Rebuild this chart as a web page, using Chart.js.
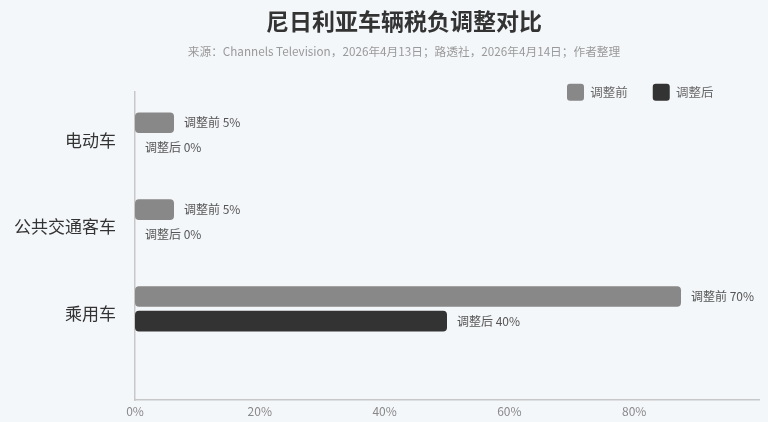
<!DOCTYPE html>
<html>
<head>
<meta charset="utf-8">
<script src="https://cdn.jsdelivr.net/npm/chart.js@4/dist/chart.umd.min.js"></script>
<style>
  html, body { margin: 0; padding: 0; background: #f4f7fa; }
  #wrap { width: 768px; height: 422px; }
</style>
</head>
<body>
<div id="wrap"><canvas id="c" width="768" height="422"></canvas></div>
<script>
const titleText = '尼日利亚车辆税负调整对比';
const subtitleText = '来源：Channels Television，2026年4月13日；路透社，2026年4月14日；作者整理';
const categories = ['电动车', '公共交通客车', '乘用车'];
const seriesNames = ['调整前', '调整后'];
const beforeValues = [5, 5, 70];
const afterValues = [0, 0, 40];
const xTickValues = [0, 16, 32, 48, 64];
const xTickLabels = ['0%', '20%', '40%', '60%', '80%'];
const seriesColors = ['#888888', '#333333'];

const FONT = "'Noto Sans CJK SC', 'Noto Sans', sans-serif";
Chart.defaults.font.family = FONT;

const layoutTweak = {
  id: 'layoutTweak',
  beforeLayout(chart) {
    const lg = chart.legend;
    if (lg && !lg._tweaked) {
      const fit = lg.fit;
      lg.fit = function () { fit.call(this); this.height -= 19; };
      lg._tweaked = true;
    }
  },
  afterLayout(chart) {
    const lg = chart.legend;
    if (lg) {
      lg.bottom += 19;
      lg.height += 19;
      lg.right = chart.chartArea.right - 20.5;
      lg.width = lg.right - lg.left;
    }
    chart.boxes.forEach(b => {
      if (b.options && typeof b.options.text === 'string' &&
          (b.options.text === titleText || b.options.text === subtitleText)) {
        b.left = 40; b.width = b.right - b.left;
      }
    });
  }
};

const barValueLabels = {
  id: 'barValueLabels',
  afterDatasetsDraw(chart) {
    const ctx = chart.ctx;
    ctx.save();
    ctx.font = '12px ' + FONT;
    ctx.fillStyle = '#555555';
    ctx.textAlign = 'left';
    ctx.textBaseline = 'middle';
    chart.data.datasets.forEach((ds, di) => {
      chart.getDatasetMeta(di).data.forEach((bar, i) => {
        const v = ds.data[i].x;
        ctx.fillText(ds.label + ' ' + v + '%', bar.x + 10, bar.y);
      });
    });
    ctx.restore();
  }
};

const toPoints = vals => vals.map((v, i) => ({ x: v, y: i }));

new Chart(document.getElementById('c'), {
  type: 'bar',
  data: {
    datasets: [
      { label: seriesNames[0], data: toPoints(beforeValues), backgroundColor: seriesColors[0], borderRadius: 4, borderSkipped: false, xAxisID: 'x', yAxisID: 'y' },
      { label: seriesNames[1], data: toPoints(afterValues), backgroundColor: seriesColors[1], borderRadius: 4, borderSkipped: false, xAxisID: 'x', yAxisID: 'y' }
    ]
  },
  options: {
    indexAxis: 'y',
    responsive: false,
    animation: false,
    devicePixelRatio: 1,
    categoryPercentage: 0.566,
    barPercentage: 0.84,
    layout: { padding: { left: 0, right: 0, top: 0, bottom: 0 } },
    plugins: {
      title: {
        display: true, text: titleText, color: '#333333',
        font: { size: 23, weight: 'bold' }, padding: { top: 7, bottom: 1 }
      },
      subtitle: {
        display: true, text: subtitleText, color: '#999999',
        font: { size: 11.7 }, padding: { top: 9, bottom: 0 }
      },
      legend: {
        display: true, position: 'top', align: 'end',
        labels: {
          boxWidth: 17, boxHeight: 17, padding: 25, color: '#666666',
          font: { size: 12.5 }, useBorderRadius: true, borderRadius: 3
        }
      },
      tooltip: { enabled: false }
    },
    scales: {
      x: {
        type: 'linear', min: 0, max: 80,
        afterBuildTicks: s => { s.ticks = xTickValues.map(v => ({ value: v })); },
        afterFit: s => { s.height = 22; s.paddingLeft = 0; s.paddingRight = 0; },
        ticks: {
          callback: (v, i) => xTickLabels[i],
          color: '#888888', font: { size: 12 }, padding: 4.5, maxRotation: 0, autoSkip: false
        },
        grid: { display: false, drawTicks: false },
        border: { display: true, color: '#c8c8c8', width: 1.5 }
      },
      y: {
        type: 'linear', reverse: true, min: -0.5, max: 3.05, offset: false,
        afterBuildTicks: s => { s.ticks = categories.map((c, i) => ({ value: i })); },
        afterFit: s => { s.width = 135; s.paddingTop = 0; s.paddingBottom = 0; },
        ticks: {
          callback: v => categories[v],
          color: '#333333', font: { size: 17 }, padding: 19, labelOffset: 5, autoSkip: false
        },
        grid: { display: false, drawTicks: false, offset: false },
        border: { display: true, color: '#c8c8c8', width: 1.5 }
      },
      yR: {
        type: 'linear', position: 'right', display: true,
        afterFit: s => { s.width = 9; s.paddingTop = 0; s.paddingBottom = 0; },
        ticks: { display: false },
        grid: { display: false, drawTicks: false },
        border: { display: false }
      }
    }
  },
  plugins: [layoutTweak, barValueLabels]
});
</script>
</body>
</html>
